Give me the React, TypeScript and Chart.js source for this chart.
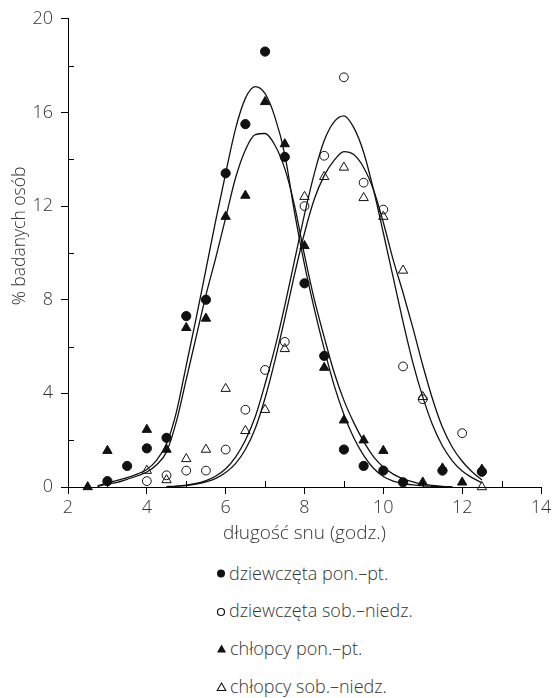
import React, { useEffect, useRef } from 'react';
import { Chart, registerables } from 'chart.js';

Chart.register(...registerables);

// ---- measured points (hours of sleep -> % of respondents) ----
const girlsWeekdayHours = [3, 3.5, 4, 4.5, 5, 5.5, 6, 6.5, 7, 7.5, 8, 8.5, 9, 9.5, 10, 10.5, 11.5, 12.5];
const girlsWeekdayPct = [0.25, 0.9, 1.65, 2.1, 7.3, 8.0, 13.4, 15.5, 18.6, 14.1, 8.7, 5.6, 1.6, 0.9, 0.7, 0.2, 0.7, 0.65];

const girlsWeekendHours = [4, 4.5, 5, 5.5, 6, 6.5, 7, 7.5, 8, 8.5, 9, 9.5, 10, 10.5, 11, 12];
const girlsWeekendPct = [0.25, 0.5, 0.7, 0.7, 1.6, 3.3, 5.0, 6.2, 12.0, 14.15, 17.5, 13.0, 11.85, 5.15, 3.75, 2.3];

const boysWeekdayHours = [2.5, 3, 4, 4.5, 5, 5.5, 6, 6.5, 7, 7.5, 8, 8.5, 9, 9.5, 10, 11, 11.5, 12, 12.5];
const boysWeekdayPct = [0, 1.55, 2.45, 1.6, 6.8, 7.2, 11.55, 12.45, 16.45, 14.65, 10.3, 5.1, 2.85, 2.0, 1.55, 0.2, 0.8, 0.2, 0.75];

const boysWeekendHours = [4, 4.5, 5, 5.5, 6, 6.5, 7, 7.5, 8, 8.5, 9, 9.5, 10, 10.5, 11, 12.5];
const boysWeekendPct = [0.7, 0.3, 1.2, 1.6, 4.2, 2.4, 3.3, 5.9, 12.4, 13.25, 13.65, 12.35, 11.55, 9.25, 3.85, 0.0];

// ---- fitted curves ----
const fitWeekdayHours = [2.75, 3, 3.25, 3.5, 3.75, 4, 4.25, 4.5, 4.75, 5, 5.25, 5.5, 5.75, 6, 6.25, 6.5, 6.75, 7, 7.25, 7.5, 7.75, 8, 8.25, 8.5, 8.75, 9, 9.25, 9.5, 9.75, 10, 10.25, 10.5, 10.75, 11, 11.25, 11.5, 11.75];
const fitGirlsWeekday = [0.05, 0.18, 0.28, 0.4, 0.55, 0.75, 1.15, 1.85, 3.2, 5.2, 7.2, 9.3, 11.4, 13.4, 15.3, 16.6, 17.1, 16.8, 15.8, 14.2, 11.7, 9.5, 7.6, 5.9, 4.35, 3.1, 2.1, 1.35, 0.8, 0.45, 0.25, 0.15, 0.09, 0.05, 0.03, 0.01, 0];
const fitBoysWeekday = [0.02, 0.12, 0.2, 0.33, 0.47, 0.64, 0.95, 1.5, 2.8, 4.6, 6.4, 8.2, 9.8, 11.5, 13.2, 14.4, 15.05, 15.1, 14.6, 13.6, 12.0, 9.9, 8.0, 6.4, 4.9, 3.7, 2.75, 1.95, 1.3, 0.85, 0.55, 0.35, 0.22, 0.12, 0.07, 0.03, 0];

const fitWeekendHours = [4.5, 4.75, 5, 5.25, 5.5, 5.75, 6, 6.25, 6.5, 6.75, 7, 7.25, 7.5, 7.75, 8, 8.25, 8.5, 8.75, 9, 9.25, 9.5, 9.75, 10, 10.25, 10.5, 10.75, 11, 11.25, 11.5, 11.75, 12, 12.25, 12.5];
const fitGirlsWeekend = [0.02, 0.04, 0.08, 0.15, 0.27, 0.47, 0.78, 1.28, 2.0, 3.0, 4.4, 5.95, 7.75, 9.7, 11.65, 13.4, 14.8, 15.6, 15.85, 15.35, 14.3, 12.7, 10.85, 8.95, 7.05, 5.3, 3.85, 2.65, 1.75, 1.12, 0.68, 0.4, 0.18];
const fitBoysWeekend = [0.01, 0.03, 0.06, 0.12, 0.22, 0.37, 0.62, 1.0, 1.6, 2.5, 3.8, 5.4, 7.2, 9.1, 10.85, 12.3, 13.3, 13.95, 14.33, 14.2, 13.65, 12.7, 11.3, 9.7, 8.3, 6.8, 5.2, 3.75, 2.55, 1.7, 1.1, 0.65, 0.3];

// ---- axes ----
const xTickValues = [2, 4, 6, 8, 10, 12, 14];
const yTickValues = [0, 4, 8, 12, 16, 20];
const xMinorTicks = [3, 5, 7, 9, 11, 13];
const yMinorTicks = [2, 6, 10, 14, 18];
const xTitle = 'długość snu (godz.)';
const yTitle = '% badanych osób';
const legendLabels = ['dziewczęta pon.–pt.', 'dziewczęta sob.–niedz.', 'chłopcy pon.–pt.', 'chłopcy sob.–niedz.'];

const FONT_FAMILY = '"Open Sans", "Liberation Sans", sans-serif';
const TEXT = '#333';
const INK = '#111';

function toPoints(xs: number[], ys: number[]) {
  return xs.map((x, i) => ({ x, y: ys[i] }));
}

function Marker({ kind }: { kind: number }) {
  if (kind === 0)
    return (
      <svg width="10" height="14" style={{ display: 'block' }}>
        <circle cx="5" cy="7.5" r="4" fill={INK} />
      </svg>
    );
  if (kind === 1)
    return (
      <svg width="10" height="14" style={{ display: 'block' }}>
        <circle cx="5" cy="9" r="3.5" fill="none" stroke={INK} strokeWidth="1.2" />
      </svg>
    );
  if (kind === 2)
    return (
      <svg width="11" height="14" style={{ display: 'block' }}>
        <polygon points="5.5,3.5 10,11.5 1,11.5" fill={INK} />
      </svg>
    );
  return (
    <svg width="11" height="14" style={{ display: 'block' }}>
      <polygon points="5.5,4 9.8,11.5 1.2,11.5" fill="none" stroke={INK} strokeWidth="1.1" />
    </svg>
  );
}

export default function App() {
  const canvasRef = useRef<HTMLCanvasElement>(null);

  useEffect(() => {
    const canvas = canvasRef.current;
    if (!canvas) return;

    const extras = {
      id: 'extras',
      afterDraw(chart: any) {
        const { ctx, scales } = chart;
        const x = scales.x;
        const y = scales.y;
        ctx.save();
        ctx.strokeStyle = '#000';
        ctx.lineWidth = 1;
        ctx.beginPath();
        xMinorTicks.forEach((v) => {
          const px = Math.round(x.getPixelForValue(v)) + 0.5;
          ctx.moveTo(px, y.bottom);
          ctx.lineTo(px, y.bottom - 6);
        });
        yMinorTicks.forEach((v) => {
          const py = Math.round(y.getPixelForValue(v)) + 0.5;
          ctx.moveTo(x.left, py);
          ctx.lineTo(x.left + 6, py);
        });
        ctx.stroke();
        // rotated y-axis title
        ctx.translate(20, 236);
        ctx.rotate(-Math.PI / 2);
        ctx.fillStyle = TEXT;
        ctx.font = `300 17.5px ${FONT_FAMILY}`;
        ctx.textAlign = 'center';
        ctx.textBaseline = 'middle';
        ctx.fillText(yTitle, 0, 0);
        ctx.restore();
      },
    };

    const tickFont = { family: FONT_FAMILY, size: 18, weight: '300' as any };
    const titleFont = { family: FONT_FAMILY, size: 19, weight: '300' as any };

    const curve = (xs: number[], ys: number[]) => ({
      type: 'line' as const,
      data: toPoints(xs, ys),
      borderColor: INK,
      borderWidth: 1.3,
      pointRadius: 0,
      showLine: true,
      fill: false,
      cubicInterpolationMode: 'monotone' as const,
      order: 2,
    });

    const chart = new Chart(canvas, {
      type: 'scatter',
      data: {
        datasets: [
          curve(fitWeekdayHours, fitGirlsWeekday) as any,
          curve(fitWeekdayHours, fitBoysWeekday) as any,
          curve(fitWeekendHours, fitGirlsWeekend) as any,
          curve(fitWeekendHours, fitBoysWeekend) as any,
          {
            label: legendLabels[0],
            data: toPoints(girlsWeekdayHours, girlsWeekdayPct),
            pointStyle: 'circle',
            pointRadius: 4.6,
            backgroundColor: INK,
            borderColor: INK,
            borderWidth: 1,
            clip: false,
            order: 0,
          },
          {
            label: legendLabels[1],
            data: toPoints(girlsWeekendHours, girlsWeekendPct),
            pointStyle: 'circle',
            pointRadius: 4.4,
            backgroundColor: 'rgba(255,255,255,0)',
            borderColor: INK,
            borderWidth: 1,
            clip: false,
            order: 0,
          },
          {
            label: legendLabels[2],
            data: toPoints(boysWeekdayHours, boysWeekdayPct),
            pointStyle: 'triangle',
            pointRadius: 5.4,
            backgroundColor: INK,
            borderColor: INK,
            borderWidth: 1,
            clip: false,
            order: 0,
          },
          {
            label: legendLabels[3],
            data: toPoints(boysWeekendHours, boysWeekendPct),
            pointStyle: 'triangle',
            pointRadius: 5.4,
            backgroundColor: 'rgba(255,255,255,0)',
            borderColor: INK,
            borderWidth: 1,
            clip: false,
            order: 0,
          },
        ] as any,
      },
      options: {
        animation: false,
        responsive: false,
        maintainAspectRatio: false,
        layout: { padding: { left: 0, top: 15, right: 14, bottom: 13 } },
        plugins: {
          legend: { display: false },
          tooltip: { enabled: false },
        },
        scales: {
          x: {
            type: 'linear',
            min: 2,
            max: 14,
            afterBuildTicks: (s: any) => {
              s.ticks = xTickValues.map((v) => ({ value: v }));
            },
            afterFit: (s: any) => {
              s.height = 60;
            },
            ticks: { font: tickFont, color: TEXT, padding: 3, maxRotation: 0, autoSkip: false },
            grid: { drawOnChartArea: false, drawTicks: true, tickLength: 7, tickColor: '#000', tickWidth: 1 },
            border: { display: true, color: '#000', width: 1 },
            title: { display: true, text: xTitle, font: titleFont, color: TEXT, padding: { top: 0, bottom: 2 } },
          },
          y: {
            type: 'linear',
            min: 0,
            max: 20,
            afterBuildTicks: (s: any) => {
              s.ticks = yTickValues.map((v) => ({ value: v }));
            },
            afterFit: (s: any) => {
              s.width = 68;
            },
            ticks: { font: tickFont, color: TEXT, padding: 8, autoSkip: false },
            grid: { drawOnChartArea: false, drawTicks: true, tickLength: 7, tickColor: '#000', tickWidth: 1 },
            border: { display: true, color: '#000', width: 1 },
            title: { display: false },
          },
        },
      } as any,
      plugins: [extras],
    });

    return () => chart.destroy();
  }, []);

  const legendCenters = [573, 610, 648, 686];

  return (
    <div style={{ position: 'fixed', left: 0, top: 0, width: 555, height: 698, background: '#fff' }}>
      <canvas ref={canvasRef} width={555} height={560} style={{ position: 'absolute', left: 0, top: 0 }} />
      {legendLabels.map((label, i) => (
        <div
          key={label}
          style={{
            position: 'absolute',
            left: 216,
            top: legendCenters[i] - 12,
            height: 24,
            display: 'flex',
            alignItems: 'center',
            fontFamily: FONT_FAMILY,
            fontWeight: 300,
            fontSize: 18,
            color: TEXT,
            whiteSpace: 'nowrap',
          }}
        >
          <Marker kind={i} />
          <span style={{ marginLeft: 3 }}>{label}</span>
        </div>
      ))}
    </div>
  );
}
